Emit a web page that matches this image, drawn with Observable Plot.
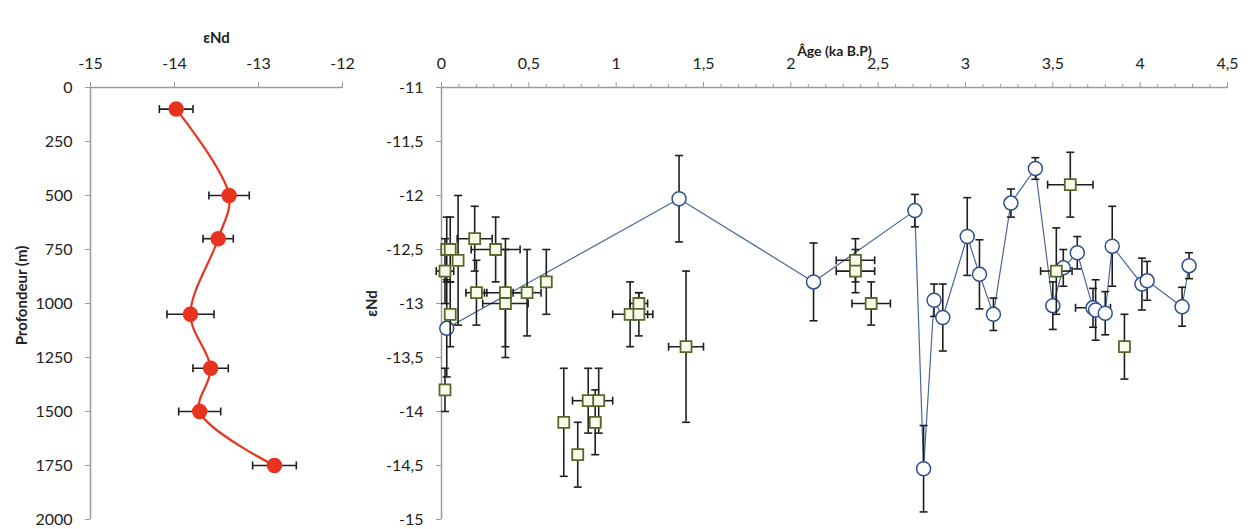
<!DOCTYPE html>
<html>
<head>
<meta charset="utf-8">
<script src="https://cdn.jsdelivr.net/npm/d3@7"></script>
<script src="https://cdn.jsdelivr.net/npm/@observablehq/plot@0.6"></script>
<style>
  html, body { margin: 0; padding: 0; background: #fff; }
  #wrap { position: relative; width: 1248px; height: 529px; overflow: hidden; }
  #left { position: absolute; left: 0; top: 0; }
  #right { position: absolute; left: 360px; top: 0; }
</style>
</head>
<body>
<div id="wrap"><div id="left"></div><div id="right"></div></div>
<script>
// ---- Left panel: εNd vs depth ----
const depth = [100, 500, 700, 1050, 1300, 1500, 1750];
const depthEnd = [-13.98, -13.35, -13.48, -13.81, -13.57, -13.70, -12.81];
const depthErr = [0.20, 0.24, 0.18, 0.28, 0.21, 0.25, 0.26];
const depthTicks = [0, 250, 500, 750, 1000, 1250, 1500, 1750, 2000];
const endTicksLeft = [-15, -14, -13, -12];

// ---- Right panel: εNd vs age ----
// circles (connected series)
const circleAge = [0.03, 1.36, 2.13, 2.71, 2.76, 2.82, 2.87, 3.01, 3.08, 3.16, 3.26, 3.40, 3.50, 3.56, 3.64, 3.73, 3.745, 3.80, 3.84, 4.01, 4.04, 4.24, 4.28];
const circleEnd = [-13.23, -12.03, -12.80, -12.14, -14.53, -12.97, -13.13, -12.38, -12.73, -13.10, -12.07, -11.75, -13.02, -12.67, -12.53, -13.04, -13.06, -13.09, -12.47, -12.82, -12.79, -13.03, -12.65];
const circleErr = [0.45, 0.40, 0.36, 0.15, 0.40, 0.15, 0.31, 0.36, 0.32, 0.15, 0.13, 0.10, 0.22, 0.17, 0.15, 0.18, 0.28, 0.20, 0.37, 0.24, 0.18, 0.18, 0.12];
const circleAgeErr = [0, 0, 0, 0, 0, 0, 0, 0, 0, 0, 0, 0, 0, 0, 0, 0.10, 0, 0, 0, 0, 0, 0, 0];
// squares (unconnected series)
const squareAge = [0.02, 0.03, 0.05, 0.095, 0.05, 0.02, 0.19, 0.31, 0.20, 0.366, 0.366, 0.49, 0.60, 0.70, 0.78, 0.84, 0.90, 0.88, 1.08, 1.13, 1.13, 1.40, 2.37, 2.37, 2.46, 3.52, 3.60, 3.91];
const squareEnd = [-12.7, -12.5, -12.5, -12.6, -13.1, -13.8, -12.4, -12.5, -12.9, -12.9, -13.0, -12.9, -12.8, -14.1, -14.4, -13.9, -13.9, -14.1, -13.1, -13.0, -13.1, -13.4, -12.6, -12.7, -13.0, -12.7, -11.9, -13.4];
const squareErr = [0.3, 0.3, 0.3, 0.6, 0.3, 0.2, 0.3, 0.3, 0.3, 0.5, 0.5, 0.4, 0.3, 0.5, 0.3, 0.3, 0.3, 0.3, 0.3, 0.1, 0.2, 0.7, 0.2, 0.2, 0.2, 0.4, 0.3, 0.3];
const squareAgeErr = [0.05, 0, 0, 0, 0, 0, 0.1, 0.14, 0.06, 0.12, 0.13, 0.08, 0, 0, 0.02, 0.09, 0.08, 0.03, 0.1, 0.05, 0.08, 0.1, 0.11, 0.11, 0.11, 0.09, 0.13, 0];
const ageTicks = [0, 0.5, 1, 1.5, 2, 2.5, 3, 3.5, 4, 4.5];
const ageMinorTicks = d3.range(0, 46).map(i => i / 10).filter(v => Math.abs(v * 2 - Math.round(v * 2)) > 1e-6);
const endTicksRight = [-15, -14.5, -14, -13.5, -13, -12.5, -12, -11.5, -11];

const fmt = d => String(d).replace(".", ",");

const depthData = depth.map((d, i) => ({depth: d, end: depthEnd[i], err: depthErr[i]}));
const circles = circleAge.map((a, i) => ({age: a, end: circleEnd[i], err: circleErr[i], aerr: circleAgeErr[i]}));
const squares = squareAge.map((a, i) => ({age: a, end: squareEnd[i], err: squareErr[i], aerr: squareAgeErr[i]}));

const hcap = {draw(ctx) { ctx.moveTo(-4, 0); ctx.lineTo(4, 0); }};
const vcap = {draw(ctx) { ctx.moveTo(0, -4); ctx.lineTo(0, 4); }};

const ERR = "#1e1e1e";
const AXIS = "#9a9a9a";
const TXT = "#222";
const FONT = "Lato, 'Open Sans', sans-serif";
const SVGSTYLE = `font-family: ${FONT}; font-size: 16px; color: ${TXT}; background: transparent; overflow: visible;`;

// ---------- Left plot ----------
const left = Plot.plot({
  width: 360, height: 529,
  marginLeft: 90, marginRight: 18, marginTop: 87, marginBottom: 10,
  style: SVGSTYLE,
  x: {domain: [-15, -12]},
  y: {domain: [0, 2000], reverse: true},
  marks: [
    Plot.axisX({anchor: "top", ticks: endTicksLeft, tickSize: 6, tickPadding: 13, tickFormat: fmt, stroke: AXIS, fill: TXT, fontSize: 16, label: null}),
    Plot.axisY({anchor: "left", ticks: depthTicks, tickSize: 5, tickPadding: 13, tickFormat: d => String(d), stroke: AXIS, fill: TXT, fontSize: 16, label: null}),
    Plot.ruleY([0], {stroke: AXIS, strokeWidth: 1.5}),
    Plot.ruleX([-15], {stroke: AXIS, strokeWidth: 1.5}),
    Plot.line(depthData, {x: "end", y: "depth", curve: "catmull-rom", stroke: "#e8331f", strokeWidth: 2.2}),
    Plot.ruleY(depthData, {y: "depth", x1: d => d.end - d.err, x2: d => d.end + d.err, stroke: ERR, strokeWidth: 1.6}),
    Plot.dot(depthData, {x: d => d.end - d.err, y: "depth", symbol: vcap, stroke: ERR, strokeWidth: 1.6}),
    Plot.dot(depthData, {x: d => d.end + d.err, y: "depth", symbol: vcap, stroke: ERR, strokeWidth: 1.6}),
    Plot.dot(depthData, {x: "end", y: "depth", r: 7, fill: "#e8331f", stroke: "#e8331f"}),
    Plot.text(["εNd"], {frameAnchor: "top", dy: -55, fontWeight: "bold", fontSize: 15, fill: TXT}),
    Plot.text(["Profondeur (m)"], {frameAnchor: "left", dx: -68, dy: -8, rotate: -90, textAnchor: "middle", fontWeight: "bold", fontSize: 15, fill: TXT})
  ]
});
document.getElementById("left").appendChild(left);

// ---------- Right plot ----------
const right = Plot.plot({
  width: 888, height: 529,
  marginLeft: 81, marginRight: 21, marginTop: 87, marginBottom: 10,
  style: SVGSTYLE,
  x: {domain: [0, 4.5]},
  y: {domain: [-15, -11]},
  marks: [
    Plot.axisX({anchor: "top", ticks: ageMinorTicks, tickSize: 4, tickFormat: () => "", stroke: AXIS, label: null}),
    Plot.axisX({anchor: "top", ticks: ageTicks, tickSize: 6, tickPadding: 13, tickFormat: fmt, stroke: AXIS, fill: TXT, fontSize: 16, label: null}),
    Plot.axisY({anchor: "left", ticks: endTicksRight, tickSize: 5, tickPadding: 13, tickFormat: fmt, stroke: AXIS, fill: TXT, fontSize: 16, label: null}),
    Plot.ruleY([-11], {stroke: AXIS, strokeWidth: 1.5}),
    Plot.ruleX([0], {stroke: AXIS, strokeWidth: 1.5}),
    Plot.line(circles, {x: "age", y: "end", stroke: "#4a6698", strokeWidth: 1.2}),
    // circle error bars
    Plot.ruleX(circles, {x: "age", y1: d => d.end - d.err, y2: d => d.end + d.err, stroke: ERR, strokeWidth: 1.6}),
    Plot.dot(circles, {x: "age", y: d => d.end - d.err, symbol: hcap, stroke: ERR, strokeWidth: 1.6}),
    Plot.dot(circles, {x: "age", y: d => d.end + d.err, symbol: hcap, stroke: ERR, strokeWidth: 1.6}),
    Plot.ruleY(circles.filter(d => d.aerr > 0), {y: "end", x1: d => d.age - d.aerr, x2: d => d.age + d.aerr, stroke: ERR, strokeWidth: 1.6}),
    Plot.dot(circles.filter(d => d.aerr > 0), {x: d => d.age - d.aerr, y: "end", symbol: vcap, stroke: ERR, strokeWidth: 1.6}),
    Plot.dot(circles.filter(d => d.aerr > 0), {x: d => d.age + d.aerr, y: "end", symbol: vcap, stroke: ERR, strokeWidth: 1.6}),
    Plot.dot(circles, {x: "age", y: "end", r: 7, fill: "white", stroke: "#2f5090", strokeWidth: 1.5}),
    // square error bars
    Plot.ruleX(squares, {x: "age", y1: d => d.end - d.err, y2: d => d.end + d.err, stroke: ERR, strokeWidth: 1.6}),
    Plot.dot(squares, {x: "age", y: d => d.end - d.err, symbol: hcap, stroke: ERR, strokeWidth: 1.6}),
    Plot.dot(squares, {x: "age", y: d => d.end + d.err, symbol: hcap, stroke: ERR, strokeWidth: 1.6}),
    Plot.ruleY(squares.filter(d => d.aerr > 0), {y: "end", x1: d => d.age - d.aerr, x2: d => d.age + d.aerr, stroke: ERR, strokeWidth: 1.6}),
    Plot.dot(squares.filter(d => d.aerr > 0), {x: d => d.age - d.aerr, y: "end", symbol: vcap, stroke: ERR, strokeWidth: 1.6}),
    Plot.dot(squares.filter(d => d.aerr > 0), {x: d => d.age + d.aerr, y: "end", symbol: vcap, stroke: ERR, strokeWidth: 1.6}),
    Plot.dot(squares, {x: "age", y: "end", r: 6.2, symbol: "square", fill: "#fbfbec", stroke: "#56692a", strokeWidth: 1.8}),
    Plot.text(["Âge (ka B.P)"], {frameAnchor: "top", dy: -41, fontWeight: "bold", fontSize: 14, fill: TXT}),
    Plot.text(["εNd"], {frameAnchor: "left", dx: -69, rotate: -90, textAnchor: "middle", fontWeight: "bold", fontSize: 15, fill: TXT})
  ]
});
document.getElementById("right").appendChild(right);
</script>
</body>
</html>
